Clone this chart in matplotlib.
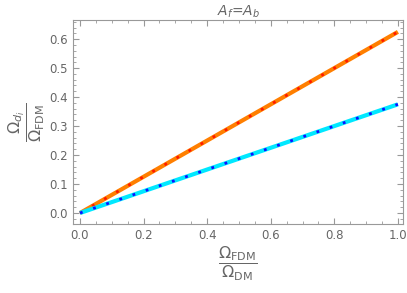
import matplotlib.pyplot as plt
from matplotlib.ticker import MultipleLocator

plt.rcParams['font.family'] = ['DejaVu Sans']
plt.rcParams['mathtext.fontset'] = 'dejavusans'

# fraction of FDM
x = [0.0, 1.0]
# Omega_d_i / Omega_FDM for the two species
y_orange = [0.0, 0.625]
y_blue = [0.0, 0.375]

gray = '#999999'
txt = '#666666'

fig = plt.figure(figsize=(4.07, 2.93), dpi=100)
ax = fig.add_axes([73 / 407, 1 - 224 / 293, 330 / 407, 204 / 293])

# thick lines with dotted overlays
ax.plot(x, y_orange, color='#ff7f00', lw=3.0, solid_capstyle='butt')
ax.plot(x, y_orange, color='#ff1a00', lw=2.0, ls=(0, (1, 4)))
ax.plot(x, y_blue, color='#00e8ff', lw=3.0, solid_capstyle='butt')
ax.plot(x, y_blue, color='#1010ff', lw=2.0, ls=(0, (1, 4)))

ax.set_xlim(-0.022, 1.016)
ax.set_ylim(-0.038, 0.666)
ax.xaxis.set_major_locator(MultipleLocator(0.2))
ax.xaxis.set_minor_locator(MultipleLocator(0.05))
ax.yaxis.set_major_locator(MultipleLocator(0.1))
ax.yaxis.set_minor_locator(MultipleLocator(0.02))
ax.xaxis.set_major_formatter(lambda v, p: f"{v:.1f}")
ax.yaxis.set_major_formatter(lambda v, p: f"{v:.1f}")

for s in ax.spines.values():
    s.set_color(gray)
ax.tick_params(which='both', direction='in', top=True, right=True, color=gray,
               labelcolor=txt, labelsize=8.5)
ax.tick_params(which='major', length=4, width=0.8)
ax.tick_params(which='minor', length=2, width=0.6)

ax.set_title(r'$A_f$=$A_b$', color=txt, fontsize=10, pad=3)
ax.set_xlabel(r'$\dfrac{\Omega_{\rm FDM}}{\Omega_{\rm DM}}$', color=txt, fontsize=11.5, labelpad=2)
ax.set_ylabel(r'$\dfrac{\Omega_{d_i}}{\Omega_{\rm FDM}}$', color=txt, fontsize=11.5, labelpad=2)

fig.savefig('out.png', dpi=100)
